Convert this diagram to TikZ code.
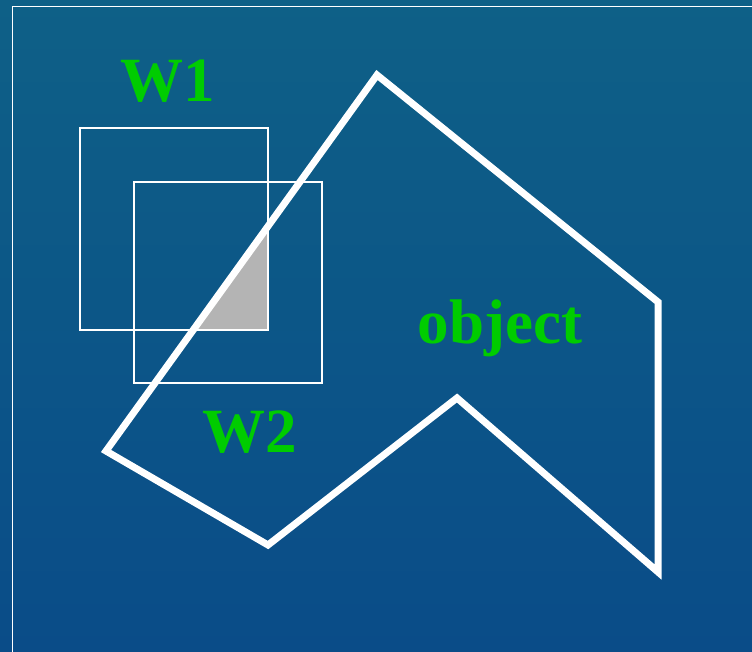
\documentclass[tikz,border=0pt]{standalone}
\usepackage{fontspec}
\setmainfont{Liberation Serif}
\definecolor{bgtop}{RGB}{14,96,135}
\definecolor{bgbot}{RGB}{10,76,136}
\definecolor{lbl}{RGB}{0,204,0}
\definecolor{grayfill}{RGB}{180,180,180}
\begin{document}
\begin{tikzpicture}[x=1pt,y=-1pt,
  lab/.style={text=lbl,font=\fontsize{63}{63}\selectfont\bfseries,anchor=base,inner sep=0pt},
  win/.style={draw=white,line width=2pt},
  obj/.style={draw=white,line width=7pt,line join=miter}]
\useasboundingbox (0,0) rectangle (752,652);
\shade[top color=bgtop,bottom color=bgbot] (0,0) rectangle (752,652);
\draw[white,line width=1.5pt] (12.5,660) -- (12.5,6.5) -- (760,6.5);
% vertices of object
\coordinate (p1) at (377,75);
\coordinate (p2) at (658,302);
\coordinate (p3) at (658,572);
\coordinate (p4) at (457,398);
\coordinate (p5) at (268,545);
\coordinate (p6) at (106,451);
% gray intersection
\begin{scope}
\clip (134,182) rectangle (268,330);
\fill[grayfill] (p1) -- (p2) -- (p3) -- (p4) -- (p5) -- (p6) -- cycle;
\end{scope}
\draw[win] (80,128) rectangle (268,330);
\draw[win] (134,182) rectangle (322,383);
\draw[obj] (p1) -- (p2) -- (p3) -- (p4) -- (p5) -- (p6) -- cycle;
\node[lab] (w1) at (168,102) {W1};
\node[lab] (w2) at (250,452) {W2};
\node[lab] (ob) at (500,343) {object};
\end{tikzpicture}
\end{document}
